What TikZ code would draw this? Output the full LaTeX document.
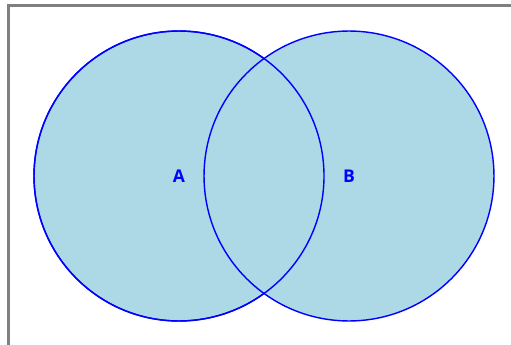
\documentclass[tikz,border=0pt]{standalone}
\usepackage{fontspec}
\setsansfont{Open Sans}
\usepackage{tikz}
\usetikzlibrary{positioning}
\definecolor{lightblue}{RGB}{173,216,230}

\begin{document}
\begin{tikzpicture}[
        x=0.02cm, y=-0.02cm,
        set/.style={draw=blue, fill=lightblue, circle, thick, minimum size=5.8cm, inner sep=0pt},
        setlabel/.style={text=blue, font=\sffamily\bfseries\fontsize{10}{12}\selectfont},
        frame/.style={draw=gray, line width=1.3pt}
    ]
    \useasboundingbox (0,0) rectangle (511,345);
    \clip (0,0) rectangle (511,345);
    \draw[frame] (8.5,5.5) rectangle (540,370);

    % Sets
    \node[set] (setA) at (179,176) {};
    \node[set] (setB) at (349,176) {};
    \draw[blue, thick] (setA) circle[radius=145];

    % Labels
    \node[setlabel] (labelA) at (setA.center) {A};
    \node[setlabel] (labelB) at (setB.center) {B};
\end{tikzpicture}
\end{document}
